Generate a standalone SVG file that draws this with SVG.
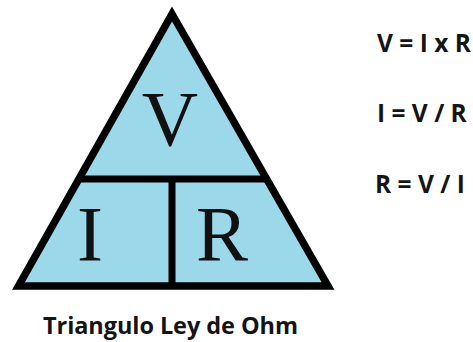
<svg xmlns="http://www.w3.org/2000/svg" width="473" height="342" viewBox="0 0 473 342">
  <style>
    .edge { fill: none; stroke: #000; stroke-width: 7; stroke-linejoin: miter; }
    .tri { fill: #9bd8e9; stroke: #000; stroke-width: 7.5; stroke-linejoin: miter; stroke-miterlimit: 10; }
    .sym { font-family: "Liberation Serif", "Times New Roman", serif; font-size: 78px; fill: #111; text-anchor: middle; }
    .eq { font-family: "Open Sans", "Liberation Sans", sans-serif; font-weight: bold; font-size: 24.5px; fill: #151515; }
    .title { font-family: "Open Sans", "Liberation Sans", sans-serif; font-weight: bold; font-size: 23.5px; fill: #141414; }
  </style>
  <rect width="473" height="342" fill="#fff"/>
  <g id="triangle">
    <polygon class="tri" points="172,14 328,286 18.5,286"/>
  </g>
  <g id="connectors">
    <line class="edge" x1="78" y1="179" x2="266" y2="179"/>
    <line class="edge" x1="172" y1="179" x2="172" y2="286"/>
  </g>
  <g id="node-V">
    <text class="sym" x="170" y="145">V</text>
  </g>
  <g id="node-I">
    <text class="sym" x="90" y="260">I</text>
  </g>
  <g id="node-R">
    <text class="sym" x="222" y="260">R</text>
  </g>
  <g id="formulas">
    <text class="eq" x="377" y="52">V = I x R</text>
    <text class="eq" x="377" y="122">I = V / R</text>
    <text class="eq" x="375" y="193">R = V / I</text>
  </g>
  <g id="caption">
    <text class="title" x="43" y="334" textLength="255" lengthAdjust="spacing">Triangulo Ley de Ohm</text>
  </g>
</svg>
